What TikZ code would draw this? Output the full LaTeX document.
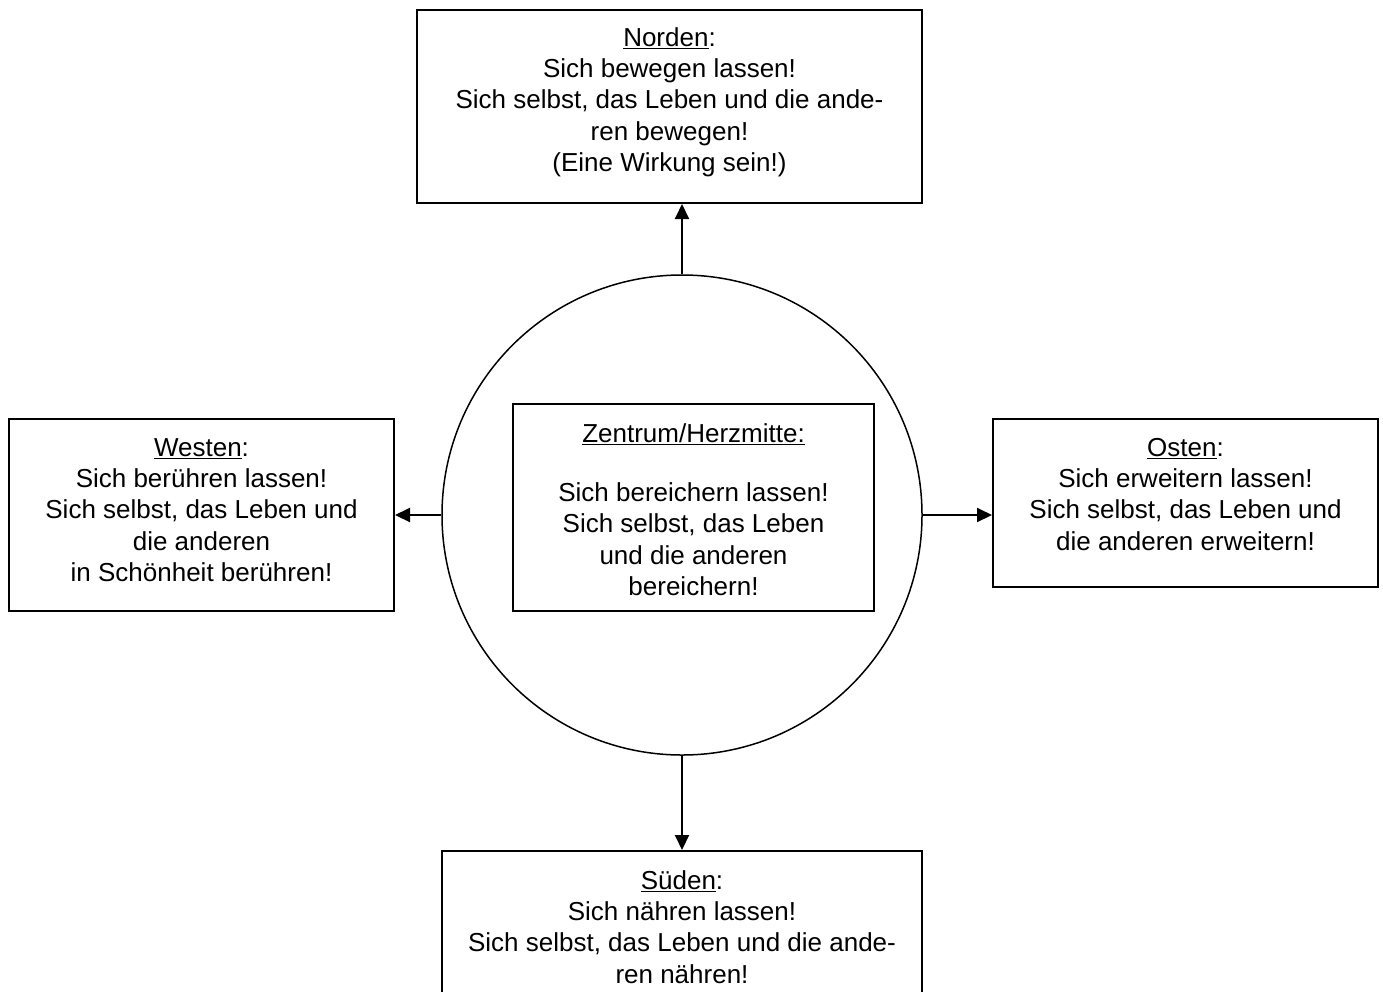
\documentclass[tikz,border=0pt]{standalone}
\usepackage{fontspec}
\setmainfont{Liberation Sans}
\usetikzlibrary{arrows.meta}
\begin{document}
\begin{tikzpicture}[x=1pt,y=-1pt,
  boxnode/.style={draw, line width=2pt, rectangle, inner sep=0pt},
  txt/.style={anchor=north, inner sep=0pt, align=center, font=\fontsize{26}{31.3}\selectfont},
  arr/.style={line width=2pt, -{Triangle[length=15pt,width=14pt]}}]
\useasboundingbox (0,0) rectangle (1383,991);
\clip (0,0) rectangle (1383,991);
\fill[white] (0,0) rectangle (1383,991);
% boxes
\node[boxnode, minimum width=505pt, minimum height=193pt] (nbox) at (669.5,106.5) {};
\node[boxnode, minimum width=385pt, minimum height=192pt] (wbox) at (201.5,515) {};
\node[boxnode, minimum width=385pt, minimum height=168pt] (ebox) at (1185.5,503) {};
\node[boxnode, minimum width=480pt, minimum height=170pt] (sbox) at (682,936) {};
\node[circle, draw, line width=1.5pt, minimum size=480pt, inner sep=0pt] (c) at (682,515) {};
\node[boxnode, minimum width=361pt, minimum height=207pt] (zbox) at (693.5,507.5) {};
% texts
\node[txt] (ntext) at (nbox.north) {\rule{0pt}{37pt}\underline{Norden}:\\Sich bewegen lassen!\\Sich selbst, das Leben und die ande-\\ren bewegen!\\(Eine Wirkung sein!)};
\node[txt] (wtext) at (wbox.north) {\rule{0pt}{38pt}\underline{Westen}:\\Sich berühren lassen!\\Sich selbst, das Leben und\\die anderen\\in Schönheit berühren!};
\node[txt] (etext) at (ebox.north) {\rule{0pt}{38pt}\underline{Osten}:\\Sich erweitern lassen!\\Sich selbst, das Leben und\\die anderen erweitern!};
\node[txt] (ztext) at (zbox.north) {\rule{0pt}{39pt}\underline{Zentrum/Herzmitte:}\\[28pt]Sich bereichern lassen!\\Sich selbst, das Leben\\und die anderen\\bereichern!};
\node[txt] (stext) at (sbox.north) {\rule{0pt}{39pt}\underline{Süden}:\\Sich nähren lassen!\\Sich selbst, das Leben und die ande-\\ren nähren!};
% connectors
\draw[arr] (c.north) -- (c.north |- nbox.south);
\draw[arr] (c.west) -- (wbox.east |- c.west);
\draw[arr] (c.east) -- (ebox.west |- c.east);
\draw[arr] (c.south) -- (c.south |- sbox.north);
\end{tikzpicture}
\end{document}
